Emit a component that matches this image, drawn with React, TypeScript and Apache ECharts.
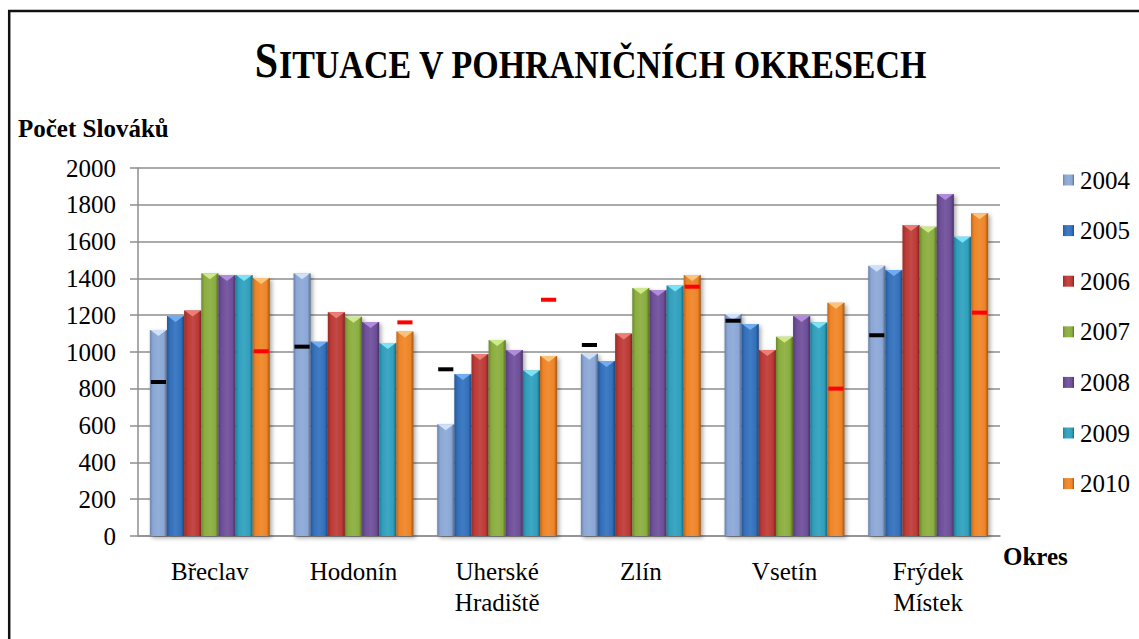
import React, { useEffect, useRef } from "react";
import * as echarts from "echarts";

const categories = ["Břeclav", "Hodonín", "Uherské\nHradiště", "Zlín", "Vsetín", "Frýdek\nMístek"];
const years = ["2004", "2005", "2006", "2007", "2008", "2009", "2010"];

const v2004 = [1120, 1428, 607, 990, 1207, 1469];
const v2005 = [1195, 1056, 880, 951, 1152, 1446];
const v2006 = [1225, 1216, 989, 1101, 1011, 1690];
const v2007 = [1428, 1192, 1065, 1348, 1083, 1681];
const v2008 = [1418, 1163, 1011, 1337, 1196, 1859];
const v2009 = [1418, 1049, 899, 1362, 1161, 1627];
const v2010 = [1402, 1111, 978, 1418, 1268, 1754];
const yearValues = [v2004, v2005, v2006, v2007, v2008, v2009, v2010];

const blackMarks = [837, 1029, 906, 1038, 1170, 1091];
const redMarks = [1004, 1161, 1284, 1355, 801, 1214];

const yTicks = { min: 0, max: 2000, interval: 200 };

const baseColors = ["#8BA7D6", "#3270BC", "#BD3935", "#8AAD3D", "#6D4E99", "#2E9FBD", "#EF8426"];
const topColors = ["#CFE0F8", "#73ACEE", "#EC7E78", "#CDE98A", "#B08CDB", "#7BE3F7", "#FBC47A"];

const FONT = "Liberation Serif";
const CAT_GAP = 0.165;

function shade(hex: string, p: number): string {
  const n = parseInt(hex.slice(1), 16);
  let r = n >> 16, g = (n >> 8) & 255, b = n & 255;
  if (p < 0) { r *= 1 + p; g *= 1 + p; b *= 1 + p; }
  else { r += (255 - r) * p; g += (255 - g) * p; b += (255 - b) * p; }
  return `rgb(${Math.round(r)},${Math.round(g)},${Math.round(b)})`;
}

function barGradient(hex: string) {
  return new echarts.graphic.LinearGradient(0, 0, 1, 0, [
    { offset: 0, color: shade(hex, -0.22) },
    { offset: 0.18, color: hex },
    { offset: 0.5, color: shade(hex, 0.08) },
    { offset: 0.82, color: hex },
    { offset: 1, color: shade(hex, -0.35) },
  ]);
}

function barGeom(api: any, c: number, v: number, yi: number) {
  const pt = api.coord([c, v]);
  const band = api.size([1, 0])[0];
  const group = band * (1 - CAT_GAP);
  const bw = group / years.length;
  const x0 = pt[0] - group / 2 + yi * bw;
  return { x0, bw, y: pt[1] };
}

export default function App() {
  const ref = useRef<HTMLDivElement>(null);
  useEffect(() => {
    if (!ref.current) return;
    const chart = echarts.init(ref.current, undefined, { renderer: "svg" });

    const barSeries = years.map((y, i) => ({
      name: y,
      type: "bar",
      data: yearValues[i],
      barGap: "0%",
      barCategoryGap: CAT_GAP * 100 + "%",
      itemStyle: {
        color: barGradient(baseColors[i]),
        shadowBlur: 4,
        shadowOffsetX: 2,
        shadowOffsetY: 2,
        shadowColor: "rgba(0,0,0,0.35)",
      },
    }));

    const bevelData: number[][] = [];
    yearValues.forEach((arr, yi) => arr.forEach((v, c) => bevelData.push([c, v, yi])));

    const bevelSeries = {
      type: "custom",
      name: "bevel",
      z: 3,
      silent: true,
      data: bevelData,
      encode: { x: 0, y: 1 },
      renderItem: (params: any, api: any) => {
        const c = api.value(0), v = api.value(1), yi = api.value(2);
        const g = barGeom(api, c, v, yi);
        return {
          type: "polygon",
          shape: {
            points: [
              [g.x0 + 0.5, g.y],
              [g.x0 + g.bw - 0.5, g.y],
              [g.x0 + g.bw / 2, g.y + 6],
            ],
          },
          style: { fill: topColors[yi] },
        };
      },
    };

    const markSeries = (marks: number[], yi: number, color: string, name: string) => ({
      type: "custom",
      name,
      z: 4,
      silent: true,
      data: marks.map((v, c) => [c, v]),
      encode: { x: 0, y: 1 },
      renderItem: (params: any, api: any) => {
        const g = barGeom(api, api.value(0), api.value(1), yi);
        return {
          type: "rect",
          shape: { x: g.x0 + 1, y: g.y - 2, width: g.bw - 2, height: 4 },
          style: { fill: color },
        };
      },
    });

    const titleText = "{b|S}{s|ITUACE V POHRANIČNÍCH OKRESECH}";

    chart.setOption({
      animation: false,
      backgroundColor: "#ffffff",
      textStyle: { fontFamily: FONT },
      grid: { left: 138, right: 139, top: 168, bottom: 103, containLabel: false },
      legend: {
        data: years,
        orient: "vertical",
        left: 1058,
        top: 162,
        itemWidth: 11,
        itemHeight: 11,
        itemGap: 24.6,
        icon: "rect",
        textStyle: { fontFamily: FONT, fontSize: 25, color: "#000", lineHeight: 26, padding: [0, 0, 0, 1] },
      },
      xAxis: {
        type: "category",
        data: categories,
        axisLine: { lineStyle: { color: "#8E8E8E", width: 1.5 } },
        axisTick: { show: false },
        axisLabel: { color: "#000", fontSize: 25, fontFamily: FONT, margin: 20, lineHeight: 31, interval: 0 },
      },
      yAxis: {
        type: "value",
        min: yTicks.min,
        max: yTicks.max,
        interval: yTicks.interval,
        axisLine: { show: true, lineStyle: { color: "#8E8E8E", width: 1.5 } },
        axisTick: { show: true, length: 8, lineStyle: { color: "#8E8E8E", width: 1.5 } },
        splitLine: { lineStyle: { color: "#8E8E8E", width: 1.5 } },
        axisLabel: {
          color: "#000",
          fontSize: 25,
          fontFamily: FONT,
          margin: 22,
          formatter: (v: number) => String(v),
        },
      },
      graphic: [
        {
          type: "rect",
          shape: { x: 9.2, y: 11, width: 1200, height: 700 },
          style: { fill: "none", stroke: "#111", lineWidth: 2.5 },
          silent: true,
        },
        {
          type: "text",
          x: 591,
          y: 60,
          scaleY: 1.2,
          style: {
            text: titleText,
            align: "center",
            verticalAlign: "middle",
            fill: "#000",
            rich: {
              b: { fontSize: 42, fontWeight: "bold", fontFamily: FONT, fill: "#000", verticalAlign: "bottom" },
              s: { fontSize: 34, fontWeight: "bold", fontFamily: FONT, fill: "#000", verticalAlign: "bottom" },
            },
          },
        },
        {
          type: "text",
          x: 18,
          y: 128,
          style: { text: "Počet Slováků", fontSize: 25, fontWeight: "bold", fontFamily: FONT, fill: "#000", verticalAlign: "middle" },
        },
        {
          type: "text",
          x: 1003,
          y: 556,
          style: { text: "Okres", fontSize: 25, fontWeight: "bold", fontFamily: FONT, fill: "#000", verticalAlign: "middle" },
        },
      ],
      series: [
        ...barSeries,
        bevelSeries,
        markSeries(blackMarks, 0, "#000000", "marks-black"),
        markSeries(redMarks, years.length - 1, "#FF0000", "marks-red"),
      ],
    });
    return () => chart.dispose();
  }, []);
  return <div ref={ref} style={{ position: "fixed", left: 0, top: 0, width: 1139, height: 639 }} />;
}
